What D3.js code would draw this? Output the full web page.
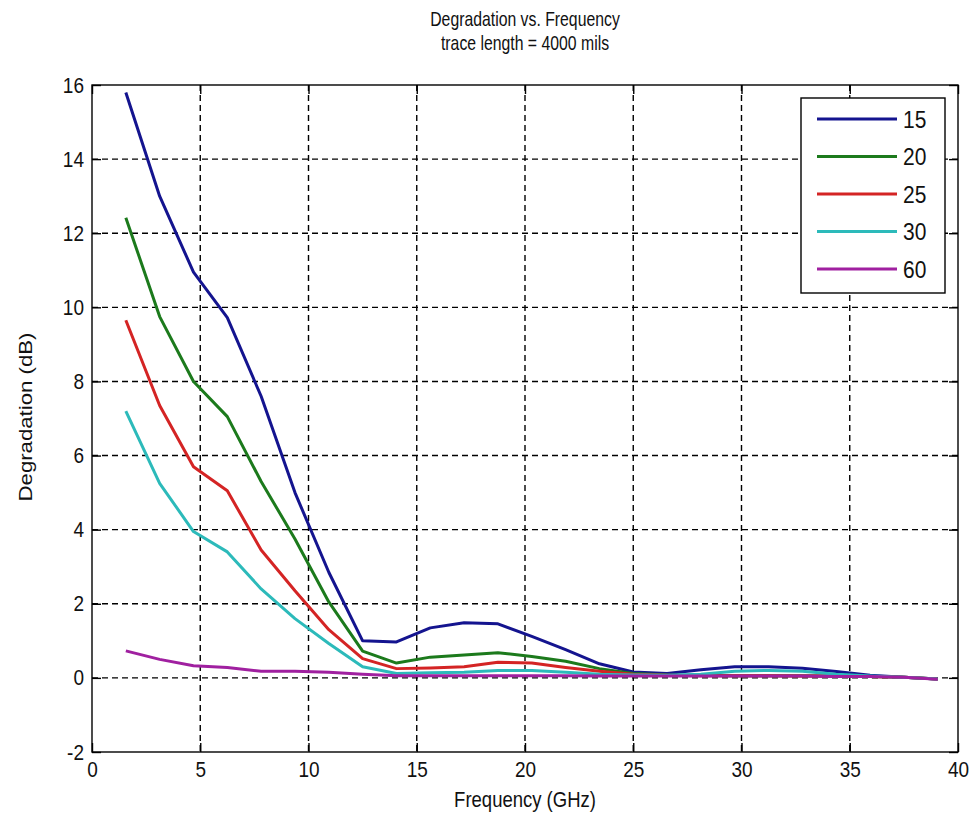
<!DOCTYPE html>
<html>
<head>
<meta charset="utf-8">
<script src="https://cdn.jsdelivr.net/npm/d3@7"></script>
<style>
  html, body { margin: 0; padding: 0; background: #fff; }
  svg text { font-family: "Liberation Sans", Arial, sans-serif; fill: #111; }
</style>
</head>
<body>
<svg id="chart" width="977" height="827"></svg>
<script>
// ----- Data
const freqs = [1.5625, 3.125, 4.6875, 6.25, 7.8125, 9.375, 10.9375, 12.5, 14.0625,
               15.625, 17.1875, 18.75, 20.3125, 21.875, 23.4375, 25, 26.5625, 28.125,
               29.6875, 31.25, 32.8125, 34.375, 35.9375, 37.5, 39.0625];

const deg15 = [15.8, 13.0, 10.95, 9.72, 7.6, 5.0, 2.85, 1.0, 0.97, 1.35, 1.49, 1.46, 1.12,
               0.76, 0.38, 0.16, 0.12, 0.22, 0.3, 0.3, 0.26, 0.17, 0.07, 0.02, -0.03];
const deg20 = [12.42, 9.75, 8.0, 7.05, 5.3, 3.75, 2.05, 0.72, 0.4, 0.56, 0.62, 0.68, 0.58,
               0.45, 0.25, 0.12, 0.08, 0.07, 0.06, 0.06, 0.06, 0.05, 0.04, 0.02, -0.03];
const deg25 = [9.65, 7.35, 5.7, 5.05, 3.45, 2.35, 1.3, 0.52, 0.25, 0.27, 0.3, 0.42, 0.4,
               0.28, 0.18, 0.1, 0.07, 0.06, 0.06, 0.06, 0.05, 0.05, 0.04, 0.02, -0.03];
const deg30 = [7.2, 5.25, 3.95, 3.4, 2.4, 1.6, 0.93, 0.3, 0.12, 0.14, 0.15, 0.2, 0.2,
               0.15, 0.1, 0.08, 0.07, 0.1, 0.18, 0.2, 0.18, 0.1, 0.05, 0.02, -0.03];
const deg60 = [0.73, 0.5, 0.33, 0.28, 0.18, 0.18, 0.15, 0.1, 0.06, 0.06, 0.06, 0.06, 0.06,
               0.06, 0.05, 0.05, 0.05, 0.05, 0.05, 0.05, 0.05, 0.04, 0.04, 0.02, -0.04];

const seriesNames = ["15", "20", "25", "30", "60"];
const seriesValues = [deg15, deg20, deg25, deg30, deg60];
const seriesColors = ["#14148f", "#1c7a1c", "#d42424", "#2cbaba", "#a020a0"];

const xTicks = [0, 5, 10, 15, 20, 25, 30, 35, 40];
const yTicks = [-2, 0, 2, 4, 6, 8, 10, 12, 14, 16];

const titleLines = ["Degradation vs. Frequency", "trace length = 4000 mils"];
const xLabel = "Frequency (GHz)";
const yLabel = "Degradation (dB)";

// ----- Geometry
const margin = { top: 85, right: 19, bottom: 75, left: 92 };
const W = 977, H = 827;
const innerW = W - margin.left - margin.right;
const innerH = H - margin.top - margin.bottom;
const tickLen = 9;
const stretch = 1.15; // the source picture text looks a bit tall and narrow

const svg = d3.select("#chart");
const g = svg.append("g").attr("transform", `translate(${margin.left},${margin.top})`);

const x = d3.scaleLinear().domain([0, 40]).range([0, innerW]);
const y = d3.scaleLinear().domain([-2, 16]).range([innerH, 0]);

// grid (dashed)
g.append("g").selectAll("line")
  .data(xTicks.slice(1, -1))
  .join("line")
    .attr("x1", d => x(d)).attr("x2", d => x(d))
    .attr("y1", 0).attr("y2", innerH)
    .attr("stroke", "#000").attr("stroke-width", 1.4)
    .attr("stroke-dasharray", "6,4");
g.append("g").selectAll("line")
  .data(yTicks.slice(1, -1))
  .join("line")
    .attr("x1", 0).attr("x2", innerW)
    .attr("y1", d => y(d)).attr("y2", d => y(d))
    .attr("stroke", "#000").attr("stroke-width", 1.4)
    .attr("stroke-dasharray", "6,4");

// axes: bottom and left with labels, ticks pointing inward on all sides
const xAxis = d3.axisBottom(x).tickValues(xTicks).tickSize(-tickLen).tickPadding(8)
  .tickFormat(d => String(d));
const yAxis = d3.axisLeft(y).tickValues(yTicks).tickSize(-tickLen).tickPadding(8)
  .tickFormat(d => String(d));

g.append("g")
  .attr("transform", `translate(0,${innerH})`)
  .call(xAxis)
  .call(a => a.select(".domain").remove())
  .call(a => a.selectAll(".tick line").attr("stroke-width", 1.4))
  .call(a => a.selectAll(".tick text")
    .attr("font-size", 19).attr("fill", "#111")
    .attr("transform", `scale(1,${stretch})`));

g.append("g")
  .call(yAxis)
  .call(a => a.select(".domain").remove())
  .call(a => a.selectAll(".tick line").attr("stroke-width", 1.4))
  .call(a => a.selectAll(".tick text")
    .attr("font-size", 19).attr("fill", "#111")
    .attr("transform", `scale(1,${stretch})`));

g.append("g")
  .call(d3.axisTop(x).tickValues(xTicks).tickSize(-tickLen).tickFormat(""))
  .call(a => a.select(".domain").remove())
  .call(a => a.selectAll(".tick line").attr("stroke-width", 1.4));
g.append("g")
  .attr("transform", `translate(${innerW},0)`)
  .call(d3.axisRight(y).tickValues(yTicks).tickSize(-tickLen).tickFormat(""))
  .call(a => a.select(".domain").remove())
  .call(a => a.selectAll(".tick line").attr("stroke-width", 1.4));

// data lines
const line = d3.line()
  .x((d, i) => x(freqs[i]))
  .y(d => y(d));

g.append("g").selectAll("path")
  .data(seriesValues)
  .join("path")
    .attr("d", line)
    .attr("fill", "none")
    .attr("stroke", (d, i) => seriesColors[i])
    .attr("stroke-width", 3)
    .attr("stroke-linejoin", "round");

// plot box
g.append("rect")
  .attr("width", innerW).attr("height", innerH)
  .attr("fill", "none").attr("stroke", "#000").attr("stroke-width", 1.4);

// legend
const legend = svg.append("g").attr("transform", "translate(801,98)");
legend.append("rect")
  .attr("width", 144).attr("height", 195)
  .attr("fill", "#fff").attr("stroke", "#000").attr("stroke-width", 1.4);
const rows = legend.selectAll("g.row")
  .data(seriesNames)
  .join("g")
    .attr("class", "row")
    .attr("transform", (d, i) => `translate(0,${21 + i * 37.5})`);
rows.append("line")
  .attr("x1", 16).attr("x2", 96)
  .attr("stroke", (d, i) => seriesColors[i])
  .attr("stroke-width", 3);
rows.append("text")
  .attr("x", 102).attr("dy", "0.36em")
  .attr("font-size", 21)
  .attr("transform", `scale(1,${stretch})`)
  .text(d => d);

// titles and axis labels
svg.append("g").selectAll("text")
  .data(titleLines)
  .join("text")
    .attr("transform", (d, i) =>
      `translate(${margin.left + innerW / 2},${26 + i * 24}) scale(1,1.3)`)
    .attr("text-anchor", "middle")
    .attr("font-size", 15.8)
    .text(d => d);

svg.append("text")
  .attr("transform", `translate(${margin.left + innerW / 2},807) scale(1,${stretch + 0.05})`)
  .attr("text-anchor", "middle")
  .attr("font-size", 18.5)
  .text(xLabel);

svg.append("text")
  .attr("transform", "translate(32,417) rotate(-90) scale(1.2,1)")
  .attr("text-anchor", "middle")
  .attr("font-size", 18.5)
  .text(yLabel);
</script>
</body>
</html>
